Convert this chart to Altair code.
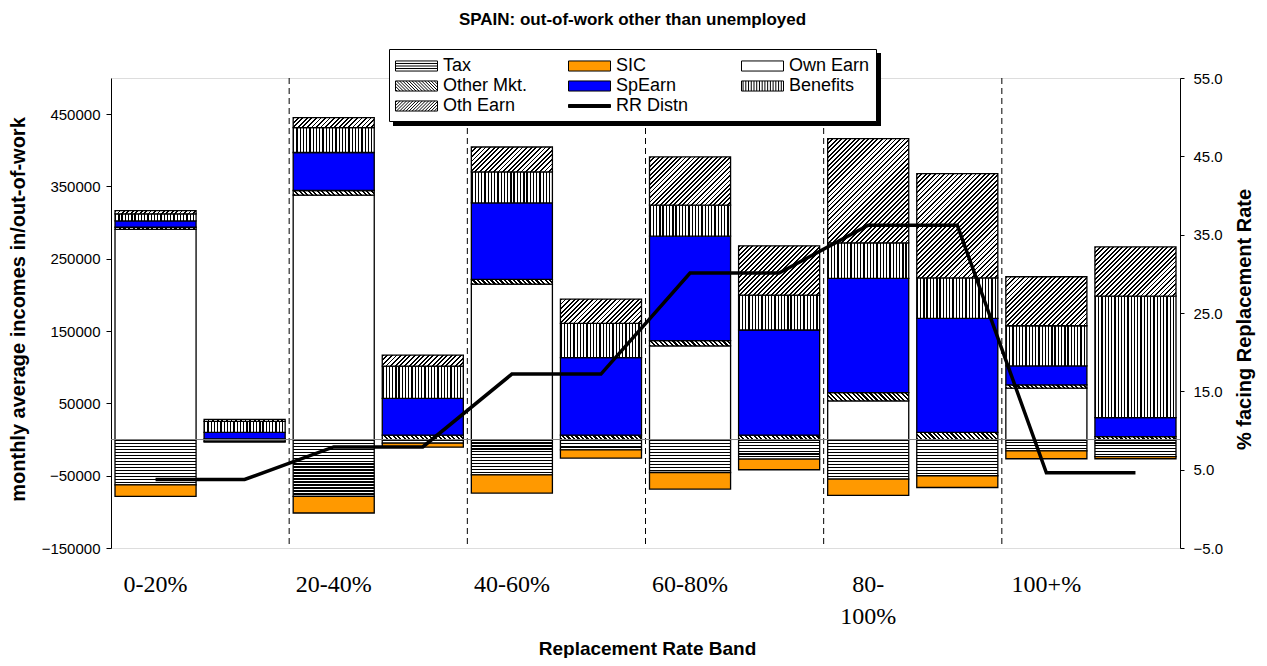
import math
import altair as alt

# ---------------- data ----------------
bands = ["0-20%", "20-40%", "40-60%", "60-80%", "80-100%", "100+%"]
states = ["in", "out"]
components = ["Tax", "SIC", "Own Earn", "Other Mkt.", "SpEarn", "Benefits", "Oth Earn"]

tax = [-62600, -2500, -78700, -5000, -48800, -14200, -45600, -27000, -54700, -50100, -15600, -23500]
sic = [-16000, -1000, -22900, -5500, -25200, -11500, -22900, -14800, -22600, -16200, -11000, -3100]
own_earn = [290600, 0, 338000, 0, 215000, 0, 129400, 0, 53400, 0, 71000, 0]
other_mkt = [3000, 1000, 6400, 6000, 6500, 6000, 7300, 6000, 11500, 10000, 4500, 4000]
sp_earn = [8800, 9000, 52600, 51000, 105800, 107200, 144600, 145500, 158000, 157500, 26300, 26300]
benefits = [9700, 15000, 34500, 44600, 42800, 47500, 42800, 48300, 49200, 56000, 55600, 168000]
oth_earn = [4500, 3000, 13800, 15200, 34500, 33600, 66700, 68100, 144100, 144200, 67700, 68100]
rr_distn = [3.75, 3.75, 7.9, 7.9, 17.2, 17.2, 30.1, 30.1, 36.2, 36.2, 4.6, 4.6]

left_ticks = [-150000, -50000, 50000, 150000, 250000, 350000, 450000]
right_ticks = [-5, 5, 15, 25, 35, 45, 55]

series_values = {
    "Tax": tax, "SIC": sic, "Own Earn": own_earn, "Other Mkt.": other_mkt,
    "SpEarn": sp_earn, "Benefits": benefits, "Oth Earn": oth_earn,
}
# legend entries listed column by column (3 columns x 3 rows)
legend_entries = ["Tax", "Other Mkt.", "Oth Earn", "SIC", "SpEarn", "RR Distn", "Own Earn", "Benefits"]
legend_kinds = {"Tax": "h", "Other Mkt.": "back", "Oth Earn": "fwd", "SIC": "plain", "SpEarn": "plain",
                "RR Distn": "line", "Own Earn": "plain", "Benefits": "v"}
legend_colors = {"Tax": "#FFFFFF", "Other Mkt.": "#FFFFFF", "Oth Earn": "#FFFFFF", "SIC": "#FF9900",
                 "SpEarn": "#0000FF", "RR Distn": "#000000", "Own Earn": "#FFFFFF", "Benefits": "#FFFFFF"}

# ---------------- layout ----------------
W, H = 1069, 470
Y_DOMAIN = [-150000, 500000]
PX_PER_UNIT = H / (Y_DOMAIN[1] - Y_DOMAIN[0])
STEP = W / 12
BAR_W = STEP * 0.91
FONT = "Liberation Sans"

slots = [f"{b}|{s}" for b in bands for s in states]


# ---------------- hatch styles (gradients with hard stops) ----------------
def stripes(n, frac):
    stops = []
    for k in range(n):
        a, b, c = k / n, (k + frac) / n, (k + 1) / n
        stops += [
            {"offset": round(a, 5), "color": "#000000"},
            {"offset": round(b, 5), "color": "#000000"},
            {"offset": round(b, 5), "color": "#ffffff"},
            {"offset": round(c, 5), "color": "#ffffff"},
        ]
    return stops


def fill_for(comp, value):
    h = max(abs(value) * PX_PER_UNIT, 0.5)
    w = BAR_W
    if comp == "SIC":
        return "#FF9900"
    if comp == "SpEarn":
        return "#0000FF"
    if comp == "Own Earn":
        return "#FFFFFF"
    if comp == "Tax":
        n = max(1, round(h / 3.0))
        return {"gradient": "linear", "x1": 0, "y1": 0, "x2": 0, "y2": 1, "stops": stripes(n, 0.4)}
    if comp == "Benefits":
        n = max(1, round(w / 3.2))
        return {"gradient": "linear", "x1": 0, "y1": 0, "x2": 1, "y2": 0, "stops": stripes(n, 0.4)}
    s = (w + h) / (w * w + h * h)
    a, b = w * s, h * s
    n = max(1, round((w + h) / math.sqrt(2) / 3.2))
    if comp == "Oth Earn":
        return {"gradient": "linear", "x1": 0, "y1": 0, "x2": a, "y2": b, "stops": stripes(n, 0.4)}
    return {"gradient": "linear", "x1": 0, "y1": 1, "x2": a, "y2": 1 - b, "stops": stripes(n, 0.5)}


# legend symbols: 42x10 px boxes drawn as custom paths (unit = 10.5 px)
SYM_SIZE = 441
X0, X1, HH = -1.0, 3.0, 0.48


def symbol_path(kind):
    if kind == "line":
        return f"M{X0},-0.14H{X1}V0.14H{X0}Z"
    box = f"M{X0},-{HH}H{X1}V{HH}H{X0}Z"
    segs = []
    if kind == "h":
        for y in (-0.24, 0.0, 0.24):
            segs.append(f"M{X0},{y}H{X1}")
    elif kind == "v":
        x = X0 + 0.15
        while x < X1 - 0.1:
            segs.append(f"M{x:.3f},-{HH}V{HH}")
            x += 0.26
    elif kind in ("fwd", "back"):
        step = 0.3
        xb = X0 - 2 * HH + step / 2
        while xb < X1:
            xa, xz = max(xb, X0), min(xb + 2 * HH, X1)
            if xz > xa:
                if kind == "fwd":
                    ya, yz = HH - (xa - xb), HH - (xz - xb)
                else:
                    ya, yz = -HH + (xa - xb), -HH + (xz - xb)
                segs.append(f"M{xa:.3f},{ya:.3f}L{xz:.3f},{yz:.3f}")
            xb += step
    return box + "".join(segs)


legend_fills = [legend_colors[e] for e in legend_entries]
legend_shapes = [symbol_path(legend_kinds[e]) for e in legend_entries]

# ---------------- tables ----------------
bar_rows = []
for i, slot in enumerate(slots):
    for j, comp in enumerate(components):
        v = series_values[comp][i]
        if v == 0:
            continue
        bar_rows.append({"slot": slot, "component": comp, "order": j, "value": v,
                         "fillstyle": fill_for(comp, v)})
line_rows = [{"slot": s, "rr": r} for s, r in zip(slots, rr_distn)]
sep_rows = [{"slot": f"{b}|out"} for b in bands[:-1]]
legend_rows = [{"series": s, "shade": 0} for s in legend_entries]

label_expr = (
    "indexof(datum.value, '|in') > 0 ? "
    "(length(split(datum.value, '|')[0]) > 6 ? "
    "[split(split(datum.value, '|')[0], '-')[0] + '-', split(split(datum.value, '|')[0], '-')[1]] : "
    "split(datum.value, '|')[0]) : ''"
)

x_scale = alt.Scale(domain=slots, paddingInner=0.09, paddingOuter=0.045)
x_axis = alt.Axis(
    labelExpr=label_expr, labelAngle=0, domain=False, ticks=False, labelOverlap=False,
    labelFont="Liberation Serif", labelFontSize=24, labelColor="black", labelPadding=24,
    labelLineHeight=32, labelBaseline="top",
    title="Replacement Rate Band", titleFont=FONT, titleFontSize=19, titleFontWeight="bold",
    titleColor="black", titleBaseline="alphabetic", titleY=106, titleX=536,
)
x_enc = alt.X("slot:N", scale=x_scale, axis=x_axis, title="Replacement Rate Band")

y_left_scale = alt.Scale(domain=Y_DOMAIN, nice=False, zero=False)
y_left_axis = alt.Axis(
    values=left_ticks, format="d", grid=False, tickSize=5, tickColor="black", domainColor="black",
    labelFont=FONT, labelFontSize=15, labelColor="black", labelPadding=6,
    title="monthly average incomes in/out-of-work", titleFont=FONT, titleFontSize=20,
    titleFontWeight="bold", titleColor="black", titleX=-83, titleY=231, titleBaseline="bottom",
)

separators = alt.Chart(alt.Data(values=sep_rows)).mark_rule(
    color="black", strokeWidth=1, strokeDash=[6, 4], xOffset=STEP * 0.09 / 2
).encode(x=alt.X("slot:N", scale=x_scale, axis=x_axis, bandPosition=1, title="Replacement Rate Band"))

bars = alt.Chart(alt.Data(values=bar_rows)).mark_bar(
    stroke="black", strokeWidth=1.3
).encode(
    x=x_enc,
    y=alt.Y("value:Q", stack="zero", scale=y_left_scale, axis=y_left_axis,
            title="monthly average incomes in/out-of-work"),
    fill=alt.Fill("fillstyle:N", scale=None, legend=None),
    detail="component:N",
    order=alt.Order("order:Q", sort="ascending"),
)

zero_line = alt.Chart(alt.Data(values=[{"z": 0}])).mark_rule(
    color="#808080", strokeWidth=1
).encode(y=alt.Y("z:Q", scale=y_left_scale, axis=y_left_axis, title="monthly average incomes in/out-of-work"))

LEG_X, LEG_Y = 278, -29
LEG_W, LEG_H = 488, 73
legend_def = alt.Legend(
    title=None, orient="none", legendX=LEG_X, legendY=LEG_Y, columns=3, gridAlign="all",
    columnPadding=38, rowPadding=0, padding=6, symbolSize=SYM_SIZE,
    labelFont=FONT, labelFontSize=18, labelColor="black",
    labelOffset=int(round((X1 - X0) * math.sqrt(SYM_SIZE) / 2 - math.sqrt(SYM_SIZE) + 5)),
    fillColor="white", strokeColor="black", symbolStrokeWidth=1, symbolStrokeColor="black", zindex=2,
)
# drop shadow of the legend box: a plain black gradient legend offset behind it
shadow_def = alt.Legend(
    title=None, orient="none", legendX=LEG_X + 4, legendY=LEG_Y + 4, type="gradient",
    direction="horizontal", gradientLength=LEG_W, gradientThickness=LEG_H,
    values=[0], labelExpr="''", labelFontSize=1, labelOffset=0, labelOpacity=0,
    padding=0, gradientStrokeWidth=0, zindex=1,
)
legend_layer = alt.Chart(alt.Data(values=legend_rows)).mark_point(
    filled=True, strokeWidth=1, opacity=1
).encode(
    color=alt.Color("series:N", scale=alt.Scale(domain=legend_entries, range=legend_fills), legend=legend_def),
    shape=alt.Shape("series:N", scale=alt.Scale(domain=legend_entries, range=legend_shapes), legend=legend_def),
    stroke=alt.Stroke("shade:Q", scale=alt.Scale(domain=[0, 1], range=["#000000", "#000000"]), legend=shadow_def),
).transform_filter("false")

left = alt.layer(separators, bars, zero_line, legend_layer)

line = alt.Chart(alt.Data(values=line_rows)).mark_line(
    color="black", strokeWidth=3.5
).encode(
    x=x_enc,
    y=alt.Y("rr:Q", scale=alt.Scale(domain=[-5, 55], nice=False, zero=False),
            axis=alt.Axis(orient="right", values=right_ticks, format=".1f", grid=False,
                          tickSize=4, tickColor="black", domainColor="black",
                          labelFont=FONT, labelFontSize=15, labelColor="black", labelPadding=9,
                          title="% facing Replacement Rate", titleFont=FONT, titleFontSize=20,
                          titleFontWeight="bold", titleColor="black", titleAngle=270,
                          titleBaseline="bottom", titleX=74, titleY=241),
            title="% facing Replacement Rate"),
)

chart = alt.layer(left, line).resolve_scale(y="independent").properties(
    width=W, height=H,
    padding={"left": 103, "top": 70, "right": 79, "bottom": 110},
    autosize=alt.AutoSizeParams(type="none"),
    title=alt.Title("SPAIN: out-of-work other than unemployed", font=FONT, fontSize=17,
                    fontWeight="bold", color="black", anchor="middle", dx=-13, offset=20),
).configure_view(stroke=None).configure(background="white")

chart.save("out.html", embed_options={"renderer": "svg", "actions": False})
